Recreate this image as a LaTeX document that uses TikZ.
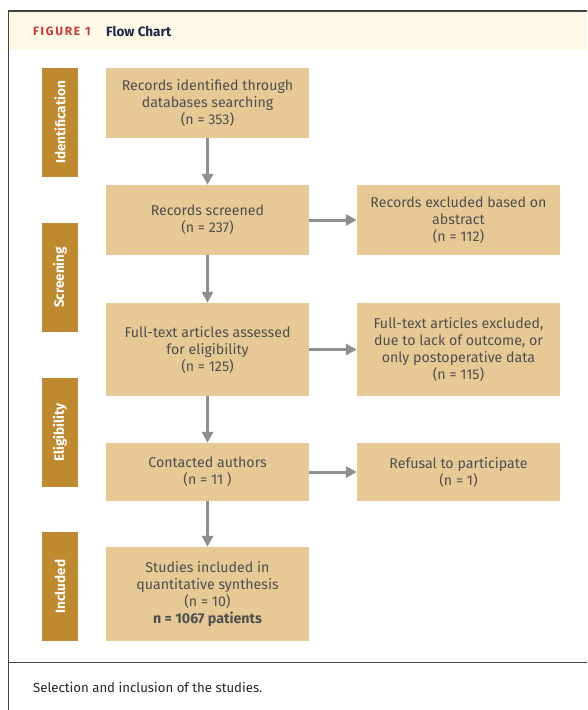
\documentclass[tikz,border=0pt]{standalone}
\usepackage{fontspec}
\setmainfont{Fira Sans}
\usetikzlibrary{arrows.meta}
\definecolor{boxfill}{HTML}{E6C995}
\definecolor{barfill}{HTML}{BF8A2F}
\definecolor{hdrfill}{HTML}{FEF9E6}
\definecolor{arrowgray}{HTML}{8E8E8E}
\definecolor{txtgray}{HTML}{4F4F4F}
\definecolor{figred}{HTML}{C9383E}
\definecolor{navy}{HTML}{1E2A45}
\definecolor{framegray}{HTML}{444444}
\tikzset{
  stagebox/.style={fill=boxfill, draw=none, minimum width=203pt, inner sep=2pt,
    align=center, text=txtgray, font=\fontsize{14.2}{17}\selectfont},
  phasebar/.style={fill=barfill, draw=none, minimum width=109pt, minimum height=36pt,
    rotate=90, text=white, font=\fontsize{13.5}{15}\selectfont\bfseries},
  flowarrow/.style={arrowgray, line width=3pt, -{Triangle[length=11pt,width=11pt]}, shorten >=0pt},
}
\begin{document}
\begin{tikzpicture}[x=1pt,y=-1pt]
\useasboundingbox (0,0) rectangle (587,710);
% frame and header
\fill[hdrfill] (8,11) rectangle (587,50);
\draw[framegray, line width=1.6pt] (8,11) -- (587,11);
\draw[framegray, line width=1pt] (8,11) -- (8,710);
\draw[framegray, line width=1pt] (8,662) -- (587,662);
\node[anchor=west, text=figred, font=\fontsize{12}{14}\selectfont\bfseries, inner sep=0pt] (figlbl) at (33,31) {\addfontfeature{LetterSpace=14}FIGURE\hspace{5pt}1};
\node[anchor=west, text=navy, font=\fontsize{13.5}{15}\selectfont\bfseries, inner sep=0pt] (figttl) at (106,31) {Flow Chart};
% phase bars
\node[phasebar] (pid) at (60,122.5) {Identification};
\node[phasebar] (psc) at (60,277.5) {Screening};
\node[phasebar] (pel) at (60,432.5) {Eligibility};
\node[phasebar] (pin) at (60,586.5) {Included};
% main boxes
\node[stagebox, minimum height=70pt] (b1) at (207.5,103) {Records identified through\\databases searching\\(n = 353)};
\node[stagebox, minimum height=70pt] (b2) at (207.5,220) {Records screened\\(n = 237)};
\node[stagebox, minimum height=93pt] (b3) at (207.5,349.5) {Full-text articles assessed\\for eligibility\\(n = 125)};
\node[stagebox, minimum height=58pt] (b4) at (207.5,472) {Contacted authors\\(n = 11 )};
\node[stagebox, minimum height=94pt] (b5) at (207.5,594) {Studies included in\\quantitative synthesis\\(n = 10)\\\textbf{n = 1067 patients}};
% right boxes
\node[stagebox, minimum height=70pt] (r1) at (458.5,220) {Records excluded based on\\abstract\\(n = 112)};
\node[stagebox, minimum height=93pt] (r2) at (458.5,349.5) {Full-text articles excluded,\\due to lack of outcome, or\\only postoperative data\\(n = 115)};
\node[stagebox, minimum height=58pt] (r3) at (458.5,472) {Refusal to participate\\(n = 1)};
% arrows
\draw[flowarrow] (b1) -- (b2);
\draw[flowarrow] (b2) -- (b3);
\draw[flowarrow] (b3) -- (b4);
\draw[flowarrow] (b4) -- (b5);
\draw[flowarrow] (b2) -- (r1);
\draw[flowarrow] (b3) -- (r2);
\draw[flowarrow] (b4) -- (r3);
% caption
\node[anchor=west, text=black!85, font=\fontsize{13.2}{15}\selectfont, inner sep=0pt] (cap) at (33,687) {Selection and inclusion of the studies.};
\end{tikzpicture}
\end{document}
